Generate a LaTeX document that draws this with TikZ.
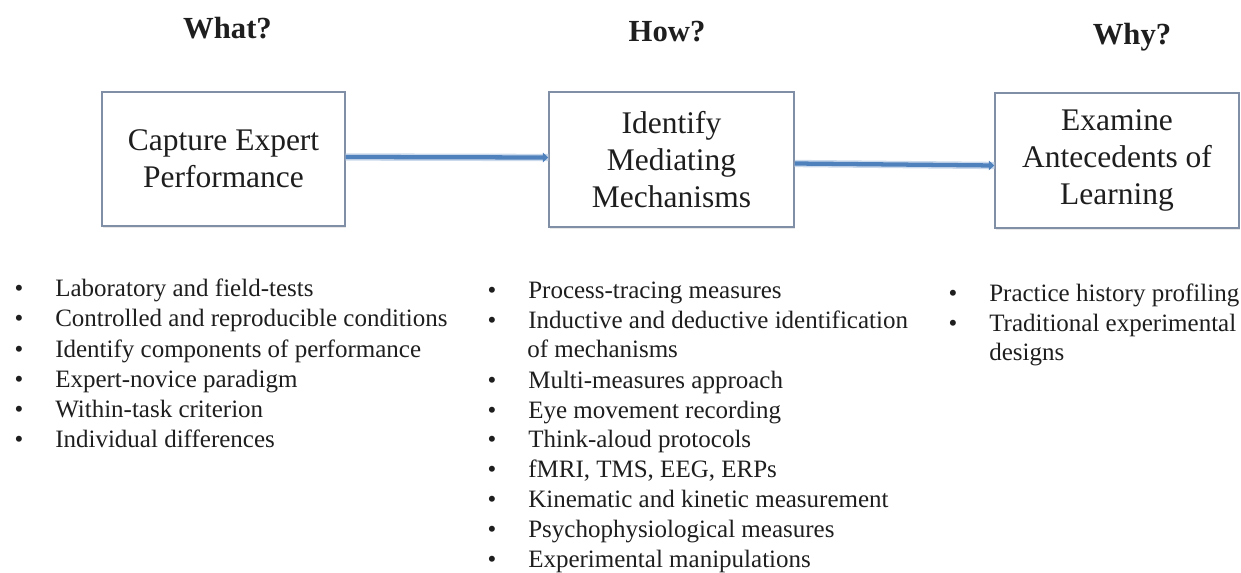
\documentclass[tikz,border=0pt]{standalone}
\usepackage{fontspec}
\setmainfont{Liberation Serif}
\usetikzlibrary{arrows.meta,shadows}
\definecolor{conn}{RGB}{79,129,189}
\definecolor{boxline}{RGB}{128,142,166}
\definecolor{txt}{RGB}{30,30,30}
\begin{document}
\begin{tikzpicture}[x=0.75pt,y=-0.75pt,
  hdr/.style={font=\fontsize{23}{27}\selectfont\bfseries, text=txt, inner sep=0pt, anchor=base},
  stage/.style={draw=boxline, line width=1.1pt, fill=white, align=center, inner sep=0pt,
    text=txt, font=\fontsize{23.6}{28}\selectfont,
    drop shadow={opacity=0.18, shadow xshift=0.8pt, shadow yshift=-1.2pt}},
  item/.style={font=\fontsize{18.75}{22.5}\selectfont, text=txt, inner sep=0pt, anchor=base west},
  bul/.style={font=\fontsize{18.75}{22.5}\selectfont, text=txt, inner sep=0pt, anchor=base},
  link/.style={conn, line width=3.2pt, -{Triangle[length=4pt,width=7pt]},
    preaction={draw=conn!30, line width=5.5pt, -}}
]
\useasboundingbox (0,0) rectangle (1241,573);

% headers
\node[hdr] (hwhat) at (227.5,39) {What?};
\node[hdr] (hhow)  at (667,42)   {How?};
\node[hdr] (hwhy)  at (1132,45)  {Why?};

% stage boxes
\node[stage, minimum width=182.25pt, minimum height=100.5pt] (b1) at (223.5,159)
  {Capture Expert\\Performance};
\node[stage, minimum width=183.75pt, minimum height=101.25pt] (b2) at (671.5,159.5)
  {Identify\\Mediating\\Mechanisms};
\node[stage, minimum width=183pt, minimum height=101.25pt] (b3) at (1117,160.5)
  {Examine\\Antecedents of\\Learning};

% connectors
\draw[link] ([yshift=1.5pt]b1.east) -- ([yshift=1.5pt]b2.west);
\draw[link] ([yshift=-3pt]b2.east) -- ([yshift=-3.75pt]b3.west);

% column 1
\foreach \t [count=\i] in {Laboratory and field-tests,
    Controlled and reproducible conditions,
    Identify components of performance,
    Expert-novice paradigm,
    Within-task criterion,
    Individual differences}{
  \node[bul]  (ab\i) at (19, 267+30*\i) {\textbullet};
  \node[item] (at\i) at (55, 267+30*\i) {\t};
}

% column 2
\node[bul]  (cb1) at (492,299) {\textbullet};
\node[item] (ct1) at (528,299) {Process-tracing measures};
\node[bul]  (cb2) at (492,329) {\textbullet};
\node[item] (ct2) at (528,329) {Inductive and deductive identification};
\node[item] (ct2b) at (527,358) {of mechanisms};
\foreach \t [count=\i] in {Multi-measures approach,
    Eye movement recording,
    Think-aloud protocols,
    {fMRI, TMS, EEG, ERPs},
    Kinematic and kinetic measurement,
    Psychophysiological measures,
    Experimental manipulations}{
  \node[bul]  (db\i) at (492, 358.5+29.8*\i) {\textbullet};
  \node[item] (dt\i) at (528, 358.5+29.8*\i) {\t};
}

% column 3
\node[bul]  (eb1) at (953,302) {\textbullet};
\node[item] (et1) at (989,302) {Practice history profiling};
\node[bul]  (eb2) at (953,331) {\textbullet};
\node[item] (et2) at (989,331) {Traditional experimental};
\node[item] (et2b) at (989,360) {designs};
\end{tikzpicture}
\end{document}
